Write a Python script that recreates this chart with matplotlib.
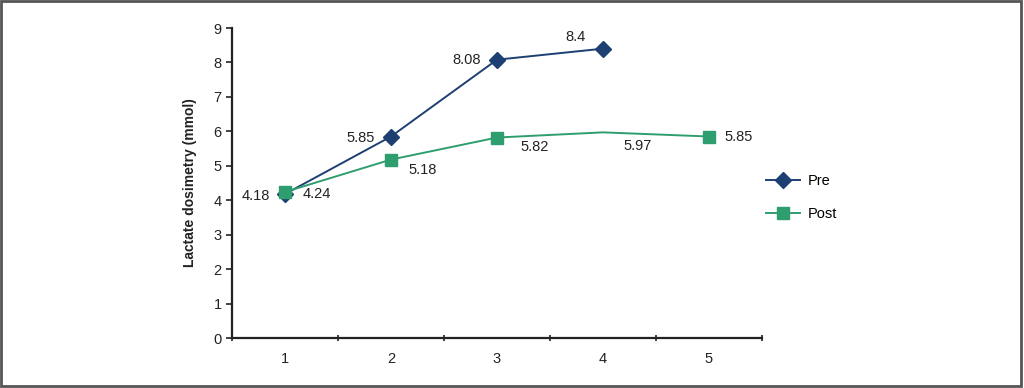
import matplotlib
matplotlib.use("Agg")
import matplotlib.pyplot as plt
from matplotlib.patches import Rectangle

plt.rcParams['font.family'] = ['Liberation Sans', 'DejaVu Sans']

categories = ["1", "2", "3", "4", "5"]
pre_values = [4.18, 5.85, 8.08, 8.4]
post_values = [4.24, 5.18, 5.82, 5.97, 5.85]
y_ticks = [0, 1, 2, 3, 4, 5, 6, 7, 8, 9]

pre_color = "#1d3f72"
post_color = "#2f9e6e"

fig = plt.figure(figsize=(10.24, 3.88), dpi=100)
ax = fig.add_axes([232/1024, 1-338/388, (762-232)/1024, (338-28)/388])

xs = [i + 0.5 for i in range(len(categories))]
ax.plot(xs[:len(pre_values)], pre_values, color=pre_color, lw=1.4, marker="D",
        ms=8, label="Pre", zorder=2)
ax.plot(xs, post_values, color=post_color, lw=1.4, marker="s", ms=9,
        markevery=[0, 1, 2, 4], label="Post", zorder=3)

pre_off = [(-29, -2), (-30, -1), (-30, 0), (-28, 12)]
post_off = [(32, -2), (32, -10), (38, -9), (35, -14), (30, 0)]
for x, v, o in zip(xs, pre_values, pre_off):
    ax.annotate(f"{v:g}", (x, v), xytext=o, textcoords="offset pixels",
                ha="center", va="center", fontsize=10.5, color="#222222")
for x, v, o in zip(xs, post_values, post_off):
    ax.annotate(f"{v:g}", (x, v), xytext=o, textcoords="offset pixels",
                ha="center", va="center", fontsize=10.5, color="#222222")

ax.set_xlim(0, 5)
ax.set_ylim(0, 9)
ax.set_yticks(y_ticks)
ax.set_xticks(range(0, 6))
ax.set_xticklabels([])
ax.set_xticks(xs, minor=True)
ax.set_xticklabels(categories, minor=True)
ax.tick_params(axis="x", which="minor", length=0, pad=10, labelsize=10.5, colors="#222222")
ax.tick_params(axis="x", which="major", length=4, width=1.2, direction="inout", color="#222222")
ax.tick_params(axis="y", length=4, width=1.2, direction="out", labelsize=10.5, color="#222222", labelcolor="#222222")
for s in ["top", "right"]:
    ax.spines[s].set_visible(False)
for s in ["left", "bottom"]:
    ax.spines[s].set_linewidth(1.6)
    ax.spines[s].set_color("#222222")

ax.set_ylabel("Lactate dosimetry (mmol)", fontsize=10, fontweight="bold", labelpad=12, color="#222222")

ax.legend(loc="upper left", bbox_to_anchor=(766/1024, 1-174/388),
          bbox_transform=fig.transFigure, frameon=False, fontsize=10.5,
          handlelength=2.3, labelspacing=1.3, handletextpad=0.55,
          borderpad=0, borderaxespad=0)

fig.add_artist(Rectangle((0.001, 0.004), 0.996, 0.993, transform=fig.transFigure,
                         fill=False, edgecolor="#555555", lw=2))

fig.savefig("out.png", dpi=100)
